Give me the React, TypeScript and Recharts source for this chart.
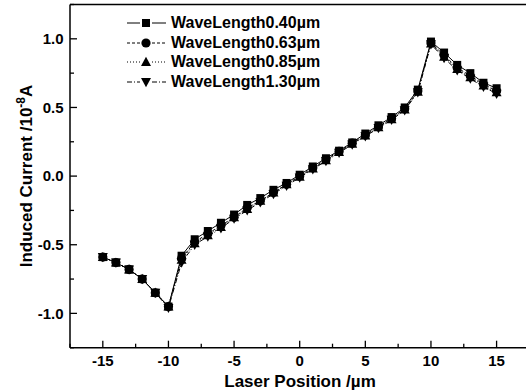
import React from 'react';
import { LineChart, Line, XAxis, YAxis, ReferenceLine, Legend } from 'recharts';

// laser positions (µm)
const positions = [-15, -14, -13, -12, -11, -10, -9, -8, -7, -6, -5, -4, -3, -2, -1, 0, 1, 2, 3, 4, 5, 6, 7, 8, 9, 10, 11, 12, 13, 14, 15];

// induced current (10^-8 A) per wavelength
const wl040 = [-0.59, -0.63, -0.68, -0.75, -0.85, -0.95, -0.58, -0.46, -0.40, -0.34, -0.28, -0.21, -0.16, -0.10, -0.05, 0.01, 0.07, 0.13, 0.185, 0.245, 0.31, 0.37, 0.43, 0.50, 0.63, 0.98, 0.90, 0.81, 0.75, 0.68, 0.64];
const wl063 = [-0.59, -0.63, -0.68, -0.75, -0.85, -0.95, -0.60, -0.48, -0.42, -0.36, -0.30, -0.23, -0.18, -0.12, -0.06, 0.0, 0.06, 0.12, 0.18, 0.24, 0.30, 0.36, 0.42, 0.49, 0.62, 0.97, 0.88, 0.79, 0.73, 0.67, 0.62];
const wl085 = [-0.59, -0.63, -0.68, -0.75, -0.85, -0.95, -0.61, -0.49, -0.43, -0.37, -0.30, -0.24, -0.18, -0.12, -0.06, -0.005, 0.055, 0.115, 0.175, 0.235, 0.295, 0.355, 0.415, 0.485, 0.615, 0.965, 0.87, 0.78, 0.72, 0.66, 0.61];
const wl130 = [-0.59, -0.63, -0.68, -0.75, -0.85, -0.96, -0.63, -0.50, -0.44, -0.38, -0.31, -0.25, -0.19, -0.13, -0.07, -0.01, 0.05, 0.11, 0.17, 0.23, 0.29, 0.35, 0.41, 0.48, 0.61, 0.96, 0.86, 0.77, 0.71, 0.65, 0.60];

const xTicks = [-17.5, -15, -12.5, -10, -7.5, -5, -2.5, 0, 2.5, 5, 7.5, 10, 12.5, 15, 17.5];
const yTicks = [-1.25, -1, -0.75, -0.5, -0.25, 0, 0.25, 0.5, 0.75, 1, 1.25];

const data = positions.map((p, i) => ({ pos: p, a: wl040[i], b: wl063[i], c: wl085[i], d: wl130[i] }));

const FONT = '"Liberation Sans", Arial, Helvetica, sans-serif';

const series = [
  { key: 'a', name: 'WaveLength0.40µm', dash: undefined, shape: 'square' },
  { key: 'b', name: 'WaveLength0.63µm', dash: '3 2', shape: 'circle' },
  { key: 'c', name: 'WaveLength0.85µm', dash: '1 2', shape: 'up' },
  { key: 'd', name: 'WaveLength1.30µm', dash: '5 2 1 2', shape: 'down' },
];

const Marker = ({ cx, cy, shape }: { cx: number; cy: number; shape: string }) => {
  if (cx == null || cy == null) return null;
  if (shape === 'square') return <rect x={cx - 4} y={cy - 4} width={8} height={8} fill="#000" />;
  if (shape === 'circle') return <circle cx={cx} cy={cy} r={4.6} fill="#000" />;
  if (shape === 'up') return <polygon points={`${cx},${cy - 5.2} ${cx + 5},${cy + 4} ${cx - 5},${cy + 4}`} fill="#000" />;
  return <polygon points={`${cx - 5},${cy - 4} ${cx + 5},${cy - 4} ${cx},${cy + 5.2}`} fill="#000" />;
};

const XTick = (props: any) => {
  const { x, y, payload } = props;
  const v = payload.value;
  const major = v % 5 === 0;
  return (
    <g>
      <line x1={x} x2={x} y1={y} y2={y - (major ? 7 : 4)} stroke="#000" strokeWidth={1.3} />
      {major && (
        <text x={x} y={y + 18.5} textAnchor="middle" fontSize={15} fontWeight="bold" fontFamily={FONT} fill="#000">
          {v}
        </text>
      )}
    </g>
  );
};

const YTick = (props: any) => {
  const { x, y, payload } = props;
  const v = payload.value;
  const major = Math.abs(v * 2 - Math.round(v * 2)) < 0.01;
  return (
    <g>
      <line x1={x} x2={x + (major ? 7 : 4)} y1={y} y2={y} stroke="#000" strokeWidth={1.3} />
      {major && (
        <text x={x - 6.5} y={y + 5.3} textAnchor="end" fontSize={15} fontWeight="bold" fontFamily={FONT} fill="#000">
          {v.toFixed(1)}
        </text>
      )}
    </g>
  );
};

const YTitle = () => (
  <text
    x={31.5}
    y={176}
    transform="rotate(-90, 31.5, 176)"
    textAnchor="middle"
    fontSize={17}
    fontWeight="bold"
    fontFamily={FONT}
    fill="#000"
  >
    Induced Current /10
    <tspan fontSize={12} dy={-7}>-8</tspan>
    <tspan dy={7}>A</tspan>
  </text>
);

const XTitle = () => (
  <text x={300} y={387} textAnchor="middle" fontSize={17} fontWeight="bold" fontFamily={FONT} fill="#000">
    Laser Position /µm
  </text>
);

const LegendBox = () => (
  <div style={{ fontFamily: FONT, fontSize: 16, fontWeight: 'bold', lineHeight: '19.8px', color: '#000' }}>
    {series.map((s) => (
      <div key={s.key} style={{ display: 'flex', alignItems: 'center', height: 19.8, whiteSpace: 'nowrap' }}>
        <svg width={43} height={20} style={{ marginRight: 3, display: 'block' }}>
          <line x1={2} x2={15} y1={10} y2={10} stroke="#000" strokeWidth={1} strokeDasharray={s.dash} />
          <line x1={27} x2={41} y1={10} y2={10} stroke="#000" strokeWidth={1} strokeDasharray={s.dash} />
          <Marker cx={21} cy={10} shape={s.shape} />
        </svg>
        <span>{s.name}</span>
      </div>
    ))}
  </div>
);

export default function App() {
  return (
    <div style={{ position: 'fixed', left: 0, top: 0, width: 526, height: 391, overflow: 'hidden', background: '#fff' }}>
      <LineChart width={540} height={391} data={data} margin={{ top: 4.5, right: 10.6, bottom: 0, left: 0 }}>
        <XAxis
          dataKey="pos"
          type="number"
          domain={[-17.5, 17.5]}
          ticks={xTicks}
          interval={0}
          height={43.3}
          tickSize={0}
          tickMargin={0}
          tickLine={false}
          tick={<XTick />}
          axisLine={{ stroke: '#000', strokeWidth: 1.5 }}
          label={<XTitle />}
        />
        <YAxis
          type="number"
          domain={[-1.25, 1.25]}
          ticks={yTicks}
          interval={0}
          width={70}
          tickSize={0}
          tickMargin={0}
          tickLine={false}
          tick={<YTick />}
          axisLine={{ stroke: '#000', strokeWidth: 1.5 }}
          label={<YTitle />}
        />
        <ReferenceLine y={1.25} stroke="#000" strokeWidth={1.5} ifOverflow="visible" />
        <ReferenceLine x={17.5} stroke="#000" strokeWidth={1.5} ifOverflow="visible" />
        <Legend
          layout="horizontal"
          verticalAlign="middle"
          align="center"
          wrapperStyle={{ left: 125, top: 12.8, width: 'auto', height: 'auto' }}
          content={() => <LegendBox />}
        />
        {series.map((s) => (
          <Line
            key={s.key}
            dataKey={s.key}
            name={s.name}
            stroke="#000"
            strokeWidth={1}
            strokeDasharray={s.dash}
            isAnimationActive={false}
            dot={(p: any) => <Marker key={`${s.key}-${p.index}`} cx={p.cx} cy={p.cy} shape={s.shape} />}
            activeDot={false}
          />
        ))}
      </LineChart>
    </div>
  );
}
